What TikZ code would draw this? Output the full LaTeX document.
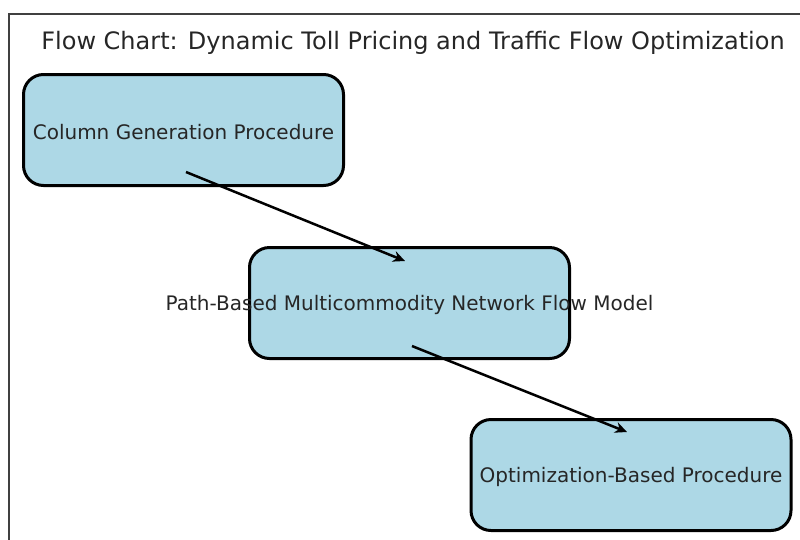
\documentclass[tikz,border=0pt]{standalone}
\usepackage{fontspec}
\setmainfont{DejaVu Sans}
\usetikzlibrary{calc,arrows.meta}
\begin{document}
\begin{tikzpicture}[x=1pt,y=-1pt,
  box/.style={draw=black, line width=3pt, fill=boxblue, rounded corners=20pt,
    minimum width=320pt, minimum height=111pt, inner sep=0pt},
  lbl/.style={font=\fontsize{20}{24}\selectfont, text=black!85, yshift=-2pt},
  conn/.style={line width=2.5pt, -{Stealth[length=12pt,width=11pt]}}]
\definecolor{boxblue}{HTML}{ADD8E6}
\useasboundingbox (0,0) rectangle (800,539);
\draw[line width=1.5pt, black!75] (9,545) -- (9,14) -- (805,14);
\node[font=\fontsize{24}{28}\selectfont, text=black!85] (title) at (413,43) {Flow Chart: Dynamic Toll Pricing and Traffic Flow Optimization};
\node[box, label={[lbl]center:Column Generation Procedure}] (b1) at (183.5,130) {};
\node[box, label={[lbl]center:Path-Based Multicommodity Network Flow Model}] (b2) at (409.5,303) {};
\node[box, label={[lbl]center:Optimization-Based Procedure}] (b3) at (631,475) {};
\coordinate (s1) at ($(b1.center)+(2.5,42)$);
\coordinate (e1) at ($(b2.center)+(-4.5,-42)$);
\coordinate (s2) at ($(b2.center)+(2.5,43)$);
\coordinate (e2) at ($(b3.center)+(-4,-43)$);
\draw[conn] (s1) -- (e1);
\draw[conn] (s2) -- (e2);
\end{tikzpicture}
\end{document}
